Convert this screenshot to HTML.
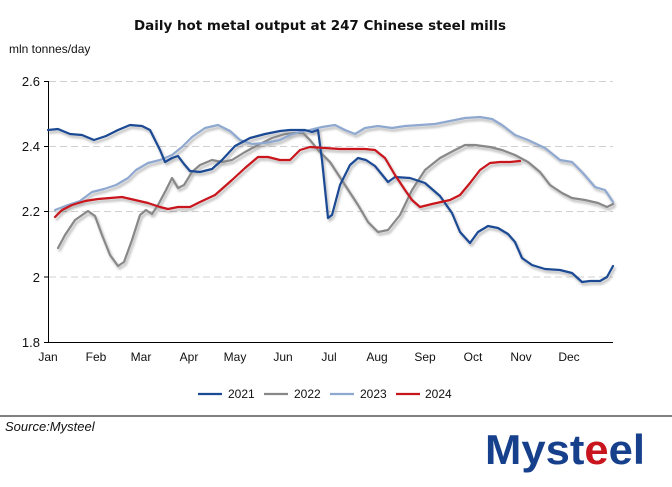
<!DOCTYPE html>
<html><head><meta charset="utf-8"><style>
body{margin:0;background:#fff;width:672px;height:482px;overflow:hidden;font-family:"Liberation Sans",Arial,sans-serif}
</style></head><body>
<svg width="672" height="482" viewBox="0 0 672 482" xmlns="http://www.w3.org/2000/svg" font-family="Liberation Sans, Arial, sans-serif">
<defs><filter id="sh" x="-5%" y="-5%" width="110%" height="120%"><feDropShadow dx="1.5" dy="2.5" stdDeviation="1.2" flood-color="#000" flood-opacity="0.3"/></filter></defs>
<text x="320" y="30" text-anchor="middle" font-size="13" font-weight="bold" fill="#111" font-family="DejaVu Sans, sans-serif" textLength="372" lengthAdjust="spacingAndGlyphs">Daily hot metal output at 247 Chinese steel mills</text>
<text x="9" y="53" font-size="12" fill="#111">mln tonnes/day</text>
<g stroke="#d0d0d0" stroke-dasharray="7,4" stroke-width="1">
<line x1="49" y1="81.5" x2="613" y2="81.5"/><line x1="49" y1="146.5" x2="613" y2="146.5"/><line x1="49" y1="211.5" x2="613" y2="211.5"/><line x1="49" y1="277" x2="613" y2="277"/>
</g>
<line x1="48.5" y1="81" x2="48.5" y2="342" stroke="#000"/>
<line x1="48" y1="342.5" x2="613" y2="342.5" stroke="#000"/>
<g stroke="#000"><line x1="44" y1="81.5" x2="48" y2="81.5"/><line x1="44" y1="146.5" x2="48" y2="146.5"/><line x1="44" y1="211.5" x2="48" y2="211.5"/><line x1="44" y1="277" x2="48" y2="277"/><line x1="44" y1="342.5" x2="48" y2="342.5"/></g>
<g font-size="13" fill="#111" text-anchor="end">
<text x="40" y="86">2.6</text><text x="40" y="151">2.4</text><text x="40" y="216">2.2</text><text x="40" y="282">2</text><text x="40" y="347">1.8</text></g>
<g font-size="12" fill="#111" text-anchor="middle">
<text x="48" y="361">Jan</text><text x="96" y="361">Feb</text><text x="141" y="361">Mar</text><text x="189" y="361">Apr</text><text x="235" y="361">May</text><text x="283" y="361">Jun</text><text x="329" y="361">Jul</text><text x="377" y="361">Aug</text><text x="425" y="361">Sep</text><text x="473" y="361">Oct</text><text x="521" y="361">Nov</text><text x="569" y="361">Dec</text></g>
<g fill="none" stroke-width="2.2" stroke-linejoin="round" stroke-linecap="round" filter="url(#sh)">
<polyline stroke="#888" points="58,248 65,235 75,220 88,211 95,216 102,235 110,255 118,266 124,262 132,240 140,215 146,210 152,214 158,205 166,190 172,178 178,188 184,185 192,172 200,165 212,160 222,162 232,160 245,152 258,145 272,138 285,134 295,133 303,133 310,140 318,150 330,162 345,185 358,205 368,222 378,232 388,230 400,215 412,190 425,170 440,158 455,150 465,145 475,145 490,147 502,150 515,155 528,162 540,172 550,185 562,193 572,198 585,200 598,203 607,207 613,204"/>
<polyline stroke="#8fa8d0" points="55,210 68,205 80,201 92,192 104,189 116,185 128,178 136,170 148,163 160,160 172,155 182,147 192,137 205,128 218,125 230,131 240,140 252,144 265,143 280,140 290,135 300,132 310,130 322,127 335,125 345,130 355,134 365,128 378,126 392,128 405,126 420,125 435,124 450,121 465,118 480,117 492,119 502,125 515,135 528,140 545,148 560,160 572,162 582,172 595,187 605,190 613,202"/>
<polyline stroke="#1a4a94" points="48,130 58,129 70,134 82,135 94,140 106,136 118,130 130,125 142,126 150,130 160,150 165,162 172,158 178,156 184,164 190,171 200,172 212,169 222,160 235,146 250,138 265,134 280,131 290,130 305,130 312,132 318,130 322,160 328,218 332,215 340,185 350,165 358,158 366,160 375,166 388,182 395,177 410,178 425,183 440,196 452,213 460,232 470,243 478,232 488,226 498,228 508,234 515,242 522,258 532,265 545,269 560,270 572,273 582,282 590,281 600,281 607,277 613,266"/>
<polyline stroke="#c8141c" points="55,217 62,210 72,205 85,201 98,199 110,198 122,197 135,200 148,203 160,207 168,209 178,207 190,207 200,202 215,195 232,180 245,168 258,157 268,157 280,160 290,160 300,150 310,147 325,148 340,149 355,149 365,149 375,150 385,158 395,175 405,190 412,200 420,207 432,204 450,200 460,195 470,183 480,170 490,163 500,162 510,162 520,161"/>
</g>
<g stroke-width="2.2"><line x1="198" y1="394" x2="222" y2="394" stroke="#1a4a94"/><line x1="264" y1="394" x2="288" y2="394" stroke="#888"/><line x1="330" y1="394" x2="354" y2="394" stroke="#8fa8d0"/><line x1="396" y1="394" x2="420" y2="394" stroke="#c8141c"/></g>
<g font-size="12" fill="#111"><text x="228" y="398">2021</text><text x="294" y="398">2022</text><text x="360" y="398">2023</text><text x="425" y="398">2024</text></g>
<line x1="0" y1="416" x2="672" y2="416" stroke="#000" stroke-width="1"/>
<text x="5" y="431" font-size="13" font-style="italic" fill="#111">Source:Mysteel</text>
<text x="485" y="464" font-size="42" font-weight="bold" fill="#163f8c" textLength="160" lengthAdjust="spacingAndGlyphs">Myst<tspan fill="#c8141c">e</tspan>el</text>
</svg>
</body></html>
